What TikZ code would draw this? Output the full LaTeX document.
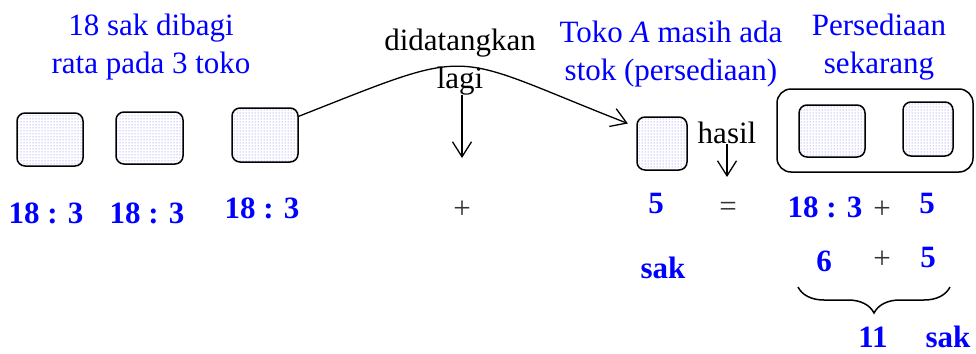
\documentclass[tikz,border=0pt]{standalone}
\usepackage{fontspec}
\setmainfont{Liberation Serif}
\usetikzlibrary{arrows.meta,decorations.pathreplacing,patterns}
\definecolor{stokblue}{RGB}{0,0,255}
\definecolor{stokdot}{RGB}{110,110,240}
\definecolor{signgray}{RGB}{51,51,51}

\begin{document}
\begin{tikzpicture}[x=1pt,y=1pt,yscale=-1,xscale=1,
  font=\fontsize{31}{37}\selectfont,
  sak/.style={draw, line width=1.5pt, rounded corners=8pt, preaction={fill=white}, pattern=dots, pattern color=stokdot, inner sep=0pt},
  num/.style={text=stokblue, font=\fontsize{31}{37}\selectfont\bfseries, anchor=base, inner sep=0.5pt},
  ket/.style={text=stokblue, align=center, anchor=base, inner sep=0.5pt},
  sign/.style={text=signgray, anchor=base, inner sep=0.5pt},
  panah/.style={line width=1.3pt, -{Straight Barb[length=15pt,width=19pt,line width=1.3pt]}}
]
\useasboundingbox (0,0) rectangle (976,353);

%Shape: Rounded Rect (three shops)
\node [sak, minimum width=66, minimum height=53] (sak1) at (50,139.5) {};
\node [sak, minimum width=67, minimum height=52] (sak2) at (149.5,138) {};
\node [sak, minimum width=66, minimum height=54] (sak3) at (265,135) {};
%Shape: Rounded Rect (stock of shop A)
\node [sak, minimum width=50, minimum height=53] (sak4) at (662,143.5) {};
%Shape: Rounded Rect (current stock)
\node [draw, line width=1.5pt, rounded corners=14pt, minimum width=196, minimum height=83] (stok) at (875,130.5) {};
\node [sak, minimum width=66, minimum height=52] (sakA) at (832,131) {};
\node [sak, minimum width=50, minimum height=54] (sakB) at (928,129) {};

% Text Node
\draw (151,73) node [ket] (judul1) {18 sak dibagi\\rata pada 3 toko};
% Text Node
\draw (460,88) node [anchor=base, align=center, inner sep=0.5pt] (datang) {didatangkan\\lagi};
% Text Node
\draw (671,80) node [ket] (judul2) {Toko \textit{A} masih ada\\stok (persediaan)};
% Text Node
\draw (879,73) node [ket] (judul3) {Persediaan\\sekarang};
% Text Node
\draw (727,143) node [anchor=base, inner sep=0.5pt] (hasil) {hasil};

% Numbers
\draw (46,223) node [num] (bagi1) {18 : 3};
\draw (147,223) node [num] (bagi2) {18 : 3};
\draw (262,218) node [num] (bagi3) {18 : 3};
\draw (462,218) node [sign] (tambah1) {+};
\draw (656,213) node [num] (lima1) {5};
\draw (728,216) node [sign] (samadengan) {=};
\draw (825,217) node [num] (bagi4) {18 : 3};
\draw (882,218) node [sign] (tambah2) {+};
\draw (927,213) node [num] (lima2) {5};
\draw (663,278) node [num] (sak1lbl) {sak};
\draw (824,271) node [num] (enam) {6};
\draw (882,268) node [sign] (tambah3) {+};
\draw (928,267) node [num] (lima3) {5};
\draw (873,347) node [num] (sebelas) {11};
\draw (948,347) node [num] (sak2lbl) {sak};

%Curve: delivery to shop A
\draw [panah, shorten >=9pt] (sak3.29) .. controls (480,45) and (445,52) .. (sak4.147);
%Straight Lines
\coordinate (datangend) at (462,158);
\draw [panah] (datang.south -| datangend) -- (datangend);
\coordinate (hasilend) at (727,177);
\draw [panah] (hasil.south) -- (hasilend);

%Brace under 6 + 5
\coordinate (kurungR) at (950,287);
\coordinate (kurungL) at (798,287);
\draw [line width=1.5pt, decorate, decoration={brace, amplitude=26pt}] (kurungR) -- (kurungL);
\end{tikzpicture}
\end{document}
